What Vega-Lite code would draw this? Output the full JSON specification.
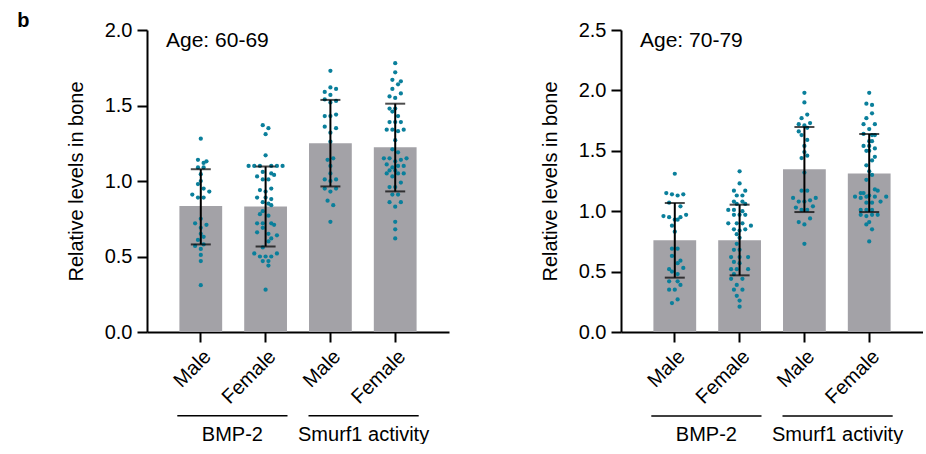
{
"$schema":"https://vega.github.io/schema/vega-lite/v6.json",
"padding":{"left":17,"top":11,"right":0,"bottom":0},
"title":{"text":"b","anchor":"start","frame":"bounds","fontSize":20,"fontWeight":"bold","offset":-11,"dx":-49},
"datasets":{
"grp":[{"g":"BMP-2"},{"g":"Smurf1 activity"}],
"s60":[{"c":"BM","m":0.835,"lo":0.580,"hi":1.078},{"c":"BF","m":0.831,"lo":0.567,"hi":1.096},{"c":"SM","m":1.250,"lo":0.964,"hi":1.537},{"c":"SF","m":1.224,"lo":0.931,"hi":1.512}],
"s70":[{"c":"BM","m":0.759,"lo":0.450,"hi":1.068},{"c":"BF","m":0.759,"lo":0.469,"hi":1.054},{"c":"SM","m":1.347,"lo":0.993,"hi":1.697},{"c":"SF","m":1.313,"lo":0.993,"hi":1.639}],
"p60":[
{"c":"BM","v":1.28,"s":0},{"c":"BM","v":1.14,"s":-1},{"c":"BM","v":1.13,"s":2},{"c":"BM","v":1.12,"s":1},{"c":"BM","v":1.09,"s":-1},{"c":"BM","v":1.09,"s":1},{"c":"BM","v":1.045,"s":0},{"c":"BM","v":1.0,"s":0},{"c":"BM","v":0.98,"s":-1},{"c":"BM","v":0.95,"s":1},{"c":"BM","v":0.93,"s":3},{"c":"BM","v":0.91,"s":-3},{"c":"BM","v":0.89,"s":-1},{"c":"BM","v":0.89,"s":1},{"c":"BM","v":0.75,"s":0},{"c":"BM","v":0.72,"s":-2},{"c":"BM","v":0.71,"s":2},{"c":"BM","v":0.69,"s":0},{"c":"BM","v":0.65,"s":0},{"c":"BM","v":0.63,"s":1},{"c":"BM","v":0.61,"s":-1},{"c":"BM","v":0.58,"s":1},{"c":"BM","v":0.57,"s":-2},{"c":"BM","v":0.55,"s":0},{"c":"BM","v":0.51,"s":0},{"c":"BM","v":0.47,"s":0},{"c":"BM","v":0.31,"s":0},
{"c":"BF","v":1.37,"s":-1},{"c":"BF","v":1.35,"s":1},{"c":"BF","v":1.31,"s":0},{"c":"BF","v":1.17,"s":0},{"c":"BF","v":1.10,"s":-6},{"c":"BF","v":1.10,"s":-4},{"c":"BF","v":1.10,"s":-2},{"c":"BF","v":1.10,"s":2},{"c":"BF","v":1.10,"s":4},{"c":"BF","v":1.10,"s":6},{"c":"BF","v":1.06,"s":-1},{"c":"BF","v":1.05,"s":2},{"c":"BF","v":1.04,"s":3},{"c":"BF","v":1.03,"s":-3},{"c":"BF","v":1.01,"s":-1},{"c":"BF","v":1.01,"s":1},{"c":"BF","v":0.95,"s":2},{"c":"BF","v":0.94,"s":-2},{"c":"BF","v":0.93,"s":0},{"c":"BF","v":0.89,"s":-3},{"c":"BF","v":0.89,"s":0},{"c":"BF","v":0.88,"s":2},{"c":"BF","v":0.86,"s":-1},{"c":"BF","v":0.85,"s":1},{"c":"BF","v":0.84,"s":2},{"c":"BF","v":0.80,"s":-1},{"c":"BF","v":0.78,"s":-2},{"c":"BF","v":0.77,"s":1},{"c":"BF","v":0.72,"s":-3},{"c":"BF","v":0.72,"s":-1},{"c":"BF","v":0.72,"s":2},{"c":"BF","v":0.71,"s":3},{"c":"BF","v":0.69,"s":-1},{"c":"BF","v":0.66,"s":-3},{"c":"BF","v":0.65,"s":1},{"c":"BF","v":0.64,"s":4},{"c":"BF","v":0.62,"s":2},{"c":"BF","v":0.60,"s":1},{"c":"BF","v":0.56,"s":-1},{"c":"BF","v":0.52,"s":-4},{"c":"BF","v":0.50,"s":-2},{"c":"BF","v":0.50,"s":0},{"c":"BF","v":0.50,"s":2},{"c":"BF","v":0.52,"s":4},{"c":"BF","v":0.47,"s":-1},{"c":"BF","v":0.47,"s":1},{"c":"BF","v":0.44,"s":1},{"c":"BF","v":0.28,"s":0},
{"c":"SM","v":1.73,"s":0},{"c":"SM","v":1.62,"s":0},{"c":"SM","v":1.61,"s":2},{"c":"SM","v":1.59,"s":-2},{"c":"SM","v":1.57,"s":0},{"c":"SM","v":1.54,"s":-2},{"c":"SM","v":1.53,"s":2},{"c":"SM","v":1.52,"s":0},{"c":"SM","v":1.44,"s":2},{"c":"SM","v":1.43,"s":-2},{"c":"SM","v":1.43,"s":0},{"c":"SM","v":1.36,"s":-2},{"c":"SM","v":1.35,"s":2},{"c":"SM","v":1.32,"s":0},{"c":"SM","v":1.26,"s":0},{"c":"SM","v":1.15,"s":1},{"c":"SM","v":1.14,"s":-1},{"c":"SM","v":1.10,"s":0},{"c":"SM","v":1.05,"s":0},{"c":"SM","v":1.01,"s":-2},{"c":"SM","v":1.00,"s":0},{"c":"SM","v":1.01,"s":2},{"c":"SM","v":0.95,"s":-2},{"c":"SM","v":0.95,"s":2},{"c":"SM","v":0.93,"s":0},{"c":"SM","v":0.87,"s":-1},{"c":"SM","v":0.84,"s":1},{"c":"SM","v":0.73,"s":0},
{"c":"SF","v":1.78,"s":0},{"c":"SF","v":1.72,"s":0},{"c":"SF","v":1.67,"s":-1},{"c":"SF","v":1.66,"s":2},{"c":"SF","v":1.64,"s":1},{"c":"SF","v":1.61,"s":-1},{"c":"SF","v":1.58,"s":2},{"c":"SF","v":1.56,"s":-2},{"c":"SF","v":1.55,"s":0},{"c":"SF","v":1.48,"s":-2},{"c":"SF","v":1.48,"s":0},{"c":"SF","v":1.46,"s":-1},{"c":"SF","v":1.43,"s":1},{"c":"SF","v":1.39,"s":-2},{"c":"SF","v":1.39,"s":0},{"c":"SF","v":1.39,"s":2},{"c":"SF","v":1.34,"s":-3},{"c":"SF","v":1.34,"s":-1},{"c":"SF","v":1.33,"s":1},{"c":"SF","v":1.34,"s":3},{"c":"SF","v":1.27,"s":0},{"c":"SF","v":1.21,"s":-1},{"c":"SF","v":1.19,"s":1},{"c":"SF","v":1.15,"s":-4},{"c":"SF","v":1.15,"s":-2},{"c":"SF","v":1.13,"s":0},{"c":"SF","v":1.14,"s":2},{"c":"SF","v":1.15,"s":4},{"c":"SF","v":1.11,"s":-3},{"c":"SF","v":1.09,"s":-1},{"c":"SF","v":1.10,"s":1},{"c":"SF","v":1.10,"s":3},{"c":"SF","v":1.07,"s":-2},{"c":"SF","v":1.07,"s":0},{"c":"SF","v":1.05,"s":-3},{"c":"SF","v":1.03,"s":-1},{"c":"SF","v":1.05,"s":1},{"c":"SF","v":1.05,"s":3},{"c":"SF","v":0.99,"s":2},{"c":"SF","v":0.96,"s":-2},{"c":"SF","v":0.96,"s":0},{"c":"SF","v":0.91,"s":-1},{"c":"SF","v":0.91,"s":1},{"c":"SF","v":0.86,"s":-2},{"c":"SF","v":0.86,"s":2},{"c":"SF","v":0.83,"s":0},{"c":"SF","v":0.73,"s":0},{"c":"SF","v":0.68,"s":0},{"c":"SF","v":0.62,"s":0}
],
"p70":[
{"c":"BM","v":1.31,"s":0},{"c":"BM","v":1.15,"s":-3},{"c":"BM","v":1.14,"s":-1},{"c":"BM","v":1.13,"s":1},{"c":"BM","v":1.14,"s":3},{"c":"BM","v":1.07,"s":-2},{"c":"BM","v":1.04,"s":2},{"c":"BM","v":0.96,"s":-4},{"c":"BM","v":0.95,"s":-2},{"c":"BM","v":0.93,"s":0},{"c":"BM","v":0.95,"s":2},{"c":"BM","v":0.97,"s":4},{"c":"BM","v":0.88,"s":-1},{"c":"BM","v":0.93,"s":1},{"c":"BM","v":0.83,"s":0},{"c":"BM","v":0.69,"s":-1},{"c":"BM","v":0.69,"s":1},{"c":"BM","v":0.63,"s":-1},{"c":"BM","v":0.59,"s":2},{"c":"BM","v":0.57,"s":1},{"c":"BM","v":0.52,"s":-2},{"c":"BM","v":0.50,"s":-1},{"c":"BM","v":0.48,"s":1},{"c":"BM","v":0.53,"s":3},{"c":"BM","v":0.42,"s":-2},{"c":"BM","v":0.42,"s":1},{"c":"BM","v":0.39,"s":2},{"c":"BM","v":0.35,"s":-2},{"c":"BM","v":0.35,"s":0},{"c":"BM","v":0.27,"s":1},{"c":"BM","v":0.24,"s":-1},
{"c":"BF","v":1.33,"s":0},{"c":"BF","v":1.23,"s":0},{"c":"BF","v":1.17,"s":-2},{"c":"BF","v":1.17,"s":2},{"c":"BF","v":1.13,"s":-1},{"c":"BF","v":1.13,"s":1},{"c":"BF","v":1.08,"s":-2},{"c":"BF","v":1.08,"s":1},{"c":"BF","v":1.06,"s":-1},{"c":"BF","v":1.06,"s":2},{"c":"BF","v":1.01,"s":-4},{"c":"BF","v":1.01,"s":-2},{"c":"BF","v":1.00,"s":1},{"c":"BF","v":0.97,"s":-2},{"c":"BF","v":0.97,"s":0},{"c":"BF","v":0.97,"s":2},{"c":"BF","v":0.90,"s":-4},{"c":"BF","v":0.90,"s":-1},{"c":"BF","v":0.90,"s":1},{"c":"BF","v":0.88,"s":4},{"c":"BF","v":0.85,"s":-2},{"c":"BF","v":0.84,"s":0},{"c":"BF","v":0.85,"s":2},{"c":"BF","v":0.81,"s":-1},{"c":"BF","v":0.78,"s":0},{"c":"BF","v":0.73,"s":-1},{"c":"BF","v":0.68,"s":-2},{"c":"BF","v":0.68,"s":0},{"c":"BF","v":0.62,"s":-3},{"c":"BF","v":0.62,"s":0},{"c":"BF","v":0.62,"s":3},{"c":"BF","v":0.58,"s":-2},{"c":"BF","v":0.57,"s":0},{"c":"BF","v":0.52,"s":-3},{"c":"BF","v":0.52,"s":-1},{"c":"BF","v":0.52,"s":3},{"c":"BF","v":0.48,"s":-2},{"c":"BF","v":0.44,"s":-3},{"c":"BF","v":0.44,"s":1},{"c":"BF","v":0.39,"s":-1},{"c":"BF","v":0.35,"s":-2},{"c":"BF","v":0.35,"s":1},{"c":"BF","v":0.30,"s":-1},{"c":"BF","v":0.26,"s":0},{"c":"BF","v":0.21,"s":0},
{"c":"SM","v":1.98,"s":0},{"c":"SM","v":1.90,"s":0},{"c":"SM","v":1.80,"s":1},{"c":"SM","v":1.77,"s":-1},{"c":"SM","v":1.72,"s":-2},{"c":"SM","v":1.71,"s":0},{"c":"SM","v":1.73,"s":2},{"c":"SM","v":1.69,"s":1},{"c":"SM","v":1.66,"s":-2},{"c":"SM","v":1.63,"s":-1},{"c":"SM","v":1.59,"s":1},{"c":"SM","v":1.54,"s":0},{"c":"SM","v":1.49,"s":0},{"c":"SM","v":1.46,"s":1},{"c":"SM","v":1.44,"s":-1},{"c":"SM","v":1.32,"s":0},{"c":"SM","v":1.17,"s":-1},{"c":"SM","v":1.17,"s":1},{"c":"SM","v":1.11,"s":-4},{"c":"SM","v":1.11,"s":4},{"c":"SM","v":1.08,"s":-2},{"c":"SM","v":1.08,"s":0},{"c":"SM","v":1.09,"s":2},{"c":"SM","v":1.04,"s":3},{"c":"SM","v":1.03,"s":-3},{"c":"SM","v":1.01,"s":-1},{"c":"SM","v":1.01,"s":1},{"c":"SM","v":0.94,"s":2},{"c":"SM","v":0.91,"s":-2},{"c":"SM","v":0.89,"s":0},{"c":"SM","v":0.73,"s":0},
{"c":"SF","v":1.98,"s":0},{"c":"SF","v":1.89,"s":-1},{"c":"SF","v":1.88,"s":1},{"c":"SF","v":1.81,"s":1},{"c":"SF","v":1.77,"s":-1},{"c":"SF","v":1.72,"s":-2},{"c":"SF","v":1.72,"s":2},{"c":"SF","v":1.68,"s":0},{"c":"SF","v":1.64,"s":-2},{"c":"SF","v":1.63,"s":1},{"c":"SF","v":1.63,"s":2},{"c":"SF","v":1.58,"s":1},{"c":"SF","v":1.58,"s":0},{"c":"SF","v":1.54,"s":-2},{"c":"SF","v":1.54,"s":0},{"c":"SF","v":1.52,"s":2},{"c":"SF","v":1.50,"s":-1},{"c":"SF","v":1.50,"s":0},{"c":"SF","v":1.45,"s":2},{"c":"SF","v":1.42,"s":1},{"c":"SF","v":1.38,"s":-1},{"c":"SF","v":1.33,"s":0},{"c":"SF","v":1.30,"s":1},{"c":"SF","v":1.26,"s":-1},{"c":"SF","v":1.18,"s":2},{"c":"SF","v":1.17,"s":3},{"c":"SF","v":1.15,"s":-2},{"c":"SF","v":1.13,"s":0},{"c":"SF","v":1.15,"s":-3},{"c":"SF","v":1.12,"s":-5},{"c":"SF","v":1.11,"s":-3},{"c":"SF","v":1.12,"s":-1},{"c":"SF","v":1.12,"s":2},{"c":"SF","v":1.12,"s":6},{"c":"SF","v":1.08,"s":4},{"c":"SF","v":1.07,"s":1},{"c":"SF","v":1.07,"s":-1},{"c":"SF","v":1.01,"s":-3},{"c":"SF","v":1.01,"s":-1},{"c":"SF","v":1.01,"s":1},{"c":"SF","v":0.97,"s":-3},{"c":"SF","v":0.96,"s":-1},{"c":"SF","v":0.97,"s":1},{"c":"SF","v":0.97,"s":3},{"c":"SF","v":0.89,"s":-1},{"c":"SF","v":0.91,"s":0},{"c":"SF","v":0.85,"s":1},{"c":"SF","v":0.75,"s":0}
]
},
"spacing":91,
"hconcat":[
{
"width":302,"height":302,
"title":{"text":"Age: 60-69","anchor":"start","frame":"group","offset":-31,"dx":19,"fontSize":21,"fontWeight":"normal"},
"layer":[
{
"encoding":{"x":{"field":"c","type":"nominal","scale":{"domain":["BM","BF","SM","SF"],"paddingInner":0.34,"paddingOuter":0.5},"axis":{"title":null,"labelAngle":-45,"labelPadding":4,"labelExpr":"datum.value == 'BM' || datum.value == 'SM' ? 'Male' : 'Female'"}}},
"resolve":{"scale":{"xOffset":"independent"}},
"layer":[
{"data":{"name":"s60"},"mark":{"type":"bar","color":"#a3a2a7"},
"encoding":{"y":{"field":"m","type":"quantitative","scale":{"domain":[0,2],"nice":false},"title":"Relative levels in bone","axis":{"values":[0,0.5,1,1.5,2],"format":".1f","titlePadding":18}}}},
{"data":{"name":"p60"},"mark":{"type":"circle","size":18,"color":"#0a7f9b","opacity":1},
"encoding":{"xOffset":{"field":"s","type":"quantitative","scale":{"domain":[-7.55,7.55]}},
"y":{"field":"v","type":"quantitative","scale":{"domain":[0,2],"nice":false},"title":"Relative levels in bone","axis":{"values":[0,0.5,1,1.5,2],"format":".1f","titlePadding":18}}}},
{"data":{"name":"s60"},"mark":{"type":"rule","color":"black","strokeWidth":2},
"encoding":{"y":{"field":"lo","type":"quantitative","scale":{"domain":[0,2],"nice":false},"title":"Relative levels in bone","axis":{"values":[0,0.5,1,1.5,2],"format":".1f","titlePadding":18}},"y2":{"field":"hi"}}},
{"data":{"name":"s60"},"mark":{"type":"tick","color":"black","thickness":2,"size":20},
"encoding":{"y":{"field":"lo","type":"quantitative","scale":{"domain":[0,2],"nice":false},"title":"Relative levels in bone","axis":{"values":[0,0.5,1,1.5,2],"format":".1f","titlePadding":18}}}},
{"data":{"name":"s60"},"mark":{"type":"tick","color":"black","thickness":2,"size":20},
"encoding":{"y":{"field":"hi","type":"quantitative","scale":{"domain":[0,2],"nice":false},"title":"Relative levels in bone","axis":{"values":[0,0.5,1,1.5,2],"format":".1f","titlePadding":18}}}}
]},
{"data":{"name":"grp"},"mark":{"type":"rule","color":"black","strokeWidth":1.5},
"encoding":{"x":{"field":"g","type":"nominal","bandPosition":0,"scale":{"domain":["BMP-2","Smurf1 activity"],"paddingInner":0.16,"paddingOuter":0.231},"axis":{"orient":"bottom","offset":92,"ticks":false,"domain":false,"labelAngle":0,"labelPadding":0,"title":null,"labelAlign":"center","labelBaseline":"top"}},
"x2":{"field":"g","bandPosition":1},
"y":{"datum":-0.554,"type":"quantitative","scale":{"domain":[0,2],"nice":false},"title":"Relative levels in bone","axis":{"values":[0,0.5,1,1.5,2],"format":".1f","titlePadding":18}}}}
],
"resolve":{"scale":{"x":"independent"},"axis":{"x":"independent"}}
},
{
"width":302,"height":302,
"title":{"text":"Age: 70-79","anchor":"start","frame":"group","offset":-31,"dx":19,"fontSize":21,"fontWeight":"normal"},
"layer":[
{
"encoding":{"x":{"field":"c","type":"nominal","scale":{"domain":["BM","BF","SM","SF"],"paddingInner":0.34,"paddingOuter":0.5},"axis":{"title":null,"labelAngle":-45,"labelPadding":4,"labelExpr":"datum.value == 'BM' || datum.value == 'SM' ? 'Male' : 'Female'"}}},
"resolve":{"scale":{"xOffset":"independent"}},
"layer":[
{"data":{"name":"s70"},"mark":{"type":"bar","color":"#a3a2a7"},
"encoding":{"y":{"field":"m","type":"quantitative","scale":{"domain":[0,2.5],"nice":false},"title":"Relative levels in bone","axis":{"values":[0,0.5,1,1.5,2,2.5],"format":".1f","titlePadding":18}}}},
{"data":{"name":"p70"},"mark":{"type":"circle","size":18,"color":"#0a7f9b","opacity":1},
"encoding":{"xOffset":{"field":"s","type":"quantitative","scale":{"domain":[-7.55,7.55]}},
"y":{"field":"v","type":"quantitative","scale":{"domain":[0,2.5],"nice":false},"title":"Relative levels in bone","axis":{"values":[0,0.5,1,1.5,2,2.5],"format":".1f","titlePadding":18}}}},
{"data":{"name":"s70"},"mark":{"type":"rule","color":"black","strokeWidth":2},
"encoding":{"y":{"field":"lo","type":"quantitative","scale":{"domain":[0,2.5],"nice":false},"title":"Relative levels in bone","axis":{"values":[0,0.5,1,1.5,2,2.5],"format":".1f","titlePadding":18}},"y2":{"field":"hi"}}},
{"data":{"name":"s70"},"mark":{"type":"tick","color":"black","thickness":2,"size":20},
"encoding":{"y":{"field":"lo","type":"quantitative","scale":{"domain":[0,2.5],"nice":false},"title":"Relative levels in bone","axis":{"values":[0,0.5,1,1.5,2,2.5],"format":".1f","titlePadding":18}}}},
{"data":{"name":"s70"},"mark":{"type":"tick","color":"black","thickness":2,"size":20},
"encoding":{"y":{"field":"hi","type":"quantitative","scale":{"domain":[0,2.5],"nice":false},"title":"Relative levels in bone","axis":{"values":[0,0.5,1,1.5,2,2.5],"format":".1f","titlePadding":18}}}}
]},
{"data":{"name":"grp"},"mark":{"type":"rule","color":"black","strokeWidth":1.5},
"encoding":{"x":{"field":"g","type":"nominal","bandPosition":0,"scale":{"domain":["BMP-2","Smurf1 activity"],"paddingInner":0.16,"paddingOuter":0.231},"axis":{"orient":"bottom","offset":92,"ticks":false,"domain":false,"labelAngle":0,"labelPadding":0,"title":null,"labelAlign":"center","labelBaseline":"top"}},
"x2":{"field":"g","bandPosition":1},
"y":{"datum":-0.695,"type":"quantitative","scale":{"domain":[0,2.5],"nice":false},"title":"Relative levels in bone","axis":{"values":[0,0.5,1,1.5,2,2.5],"format":".1f","titlePadding":18}}}}
],
"resolve":{"scale":{"x":"independent"},"axis":{"x":"independent"}}
}
],
"config":{
"font":"Liberation Sans",
"view":{"stroke":null},
"axis":{"domainColor":"black","domainWidth":2,"tickColor":"black","tickWidth":2,"tickSize":10,"labelColor":"black","labelFontSize":20,"titleColor":"black","titleFontSize":20,"titleFontWeight":"normal","grid":false,"labelPadding":5},
"title":{"color":"black"}
}
}
